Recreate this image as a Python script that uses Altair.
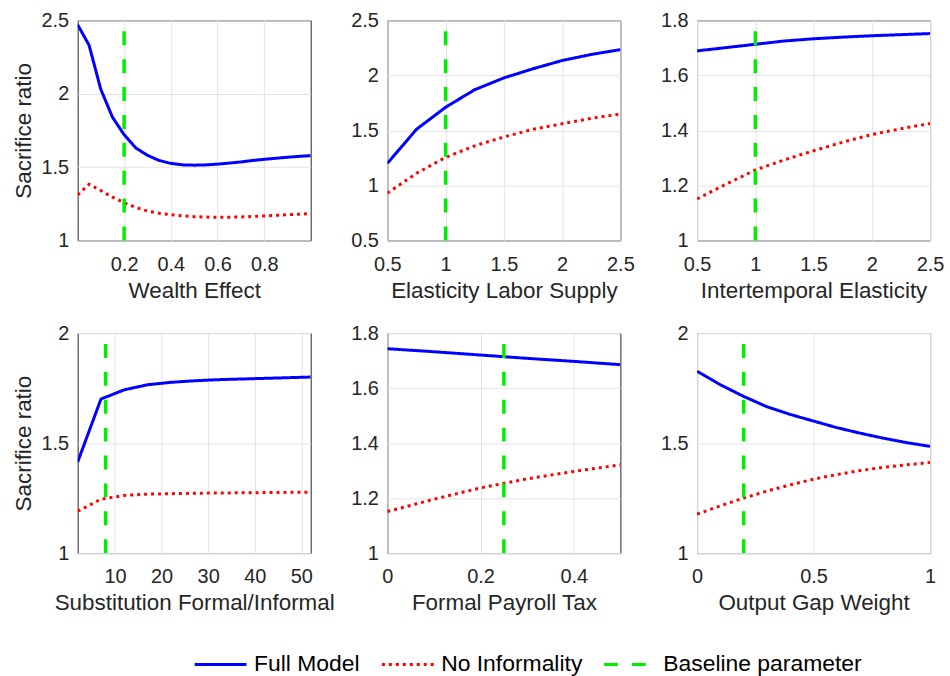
import altair as alt
import pandas as pd

SERIES = ["Full Model", "No Informality", "Baseline parameter"]
COLORS = ["#0000ff", "#ff0000", "#00ee00"]
DASHES = [[1, 0], [3, 4], [14, 14]]

# Panel 1: Wealth Effect
wealth_x = [0.001, 0.05, 0.10, 0.15, 0.20, 0.25, 0.30, 0.35, 0.40, 0.45, 0.50,
            0.55, 0.60, 0.65, 0.70, 0.75, 0.80, 0.85, 0.90, 0.95, 0.999]
wealth_full = [2.47, 2.33, 2.03, 1.84, 1.72, 1.63, 1.58, 1.545, 1.525, 1.515, 1.513,
               1.515, 1.52, 1.527, 1.535, 1.545, 1.553, 1.56, 1.567, 1.573, 1.578]
wealth_noinf = [1.31, 1.383, 1.34, 1.295, 1.257, 1.225, 1.20, 1.185, 1.175, 1.167, 1.162,
                1.159, 1.158, 1.158, 1.16, 1.163, 1.167, 1.171, 1.175, 1.179, 1.183]
wealth_base = 0.2

# Panel 2: Elasticity Labor Supply
labor_x = [0.5, 0.75, 1.0, 1.25, 1.5, 1.75, 2.0, 2.25, 2.5]
labor_full = [1.20, 1.51, 1.71, 1.87, 1.977, 2.06, 2.135, 2.19, 2.234]
labor_noinf = [0.93, 1.11, 1.255, 1.36, 1.44, 1.51, 1.56, 1.61, 1.648]
labor_base = 1.0

# Panel 3: Intertemporal Elasticity
inter_x = [0.5, 0.75, 1.0, 1.25, 1.5, 1.75, 2.0, 2.25, 2.5]
inter_full = [1.689, 1.701, 1.713, 1.725, 1.733, 1.739, 1.744, 1.748, 1.752]
inter_noinf = [1.151, 1.205, 1.256, 1.293, 1.326, 1.357, 1.385, 1.406, 1.425]
inter_base = 1.0

# Panel 4: Substitution Formal/Informal
subst_x = [2, 7, 12, 17, 22, 27, 32, 37, 42, 47, 52]
subst_full = [1.414, 1.70, 1.742, 1.765, 1.776, 1.783, 1.788, 1.791, 1.794, 1.797, 1.80]
subst_noinf = [1.19, 1.245, 1.262, 1.268, 1.270, 1.272, 1.273, 1.274, 1.275, 1.276, 1.277]
subst_base = 8

# Panel 5: Formal Payroll Tax
tax_x = [0.0, 0.1, 0.2, 0.3, 0.4, 0.5]
tax_full = [1.743, 1.732, 1.720, 1.708, 1.697, 1.685]
tax_noinf = [1.151, 1.196, 1.237, 1.27, 1.297, 1.321]
tax_base = 0.25

# Panel 6: Output Gap Weight
gap_x = [0.0, 0.1, 0.2, 0.3, 0.4, 0.5, 0.6, 0.7, 0.8, 0.9, 1.0]
gap_full = [1.826, 1.765, 1.712, 1.665, 1.63, 1.60, 1.57, 1.545, 1.522, 1.502, 1.485]
gap_noinf = [1.177, 1.215, 1.25, 1.282, 1.31, 1.336, 1.357, 1.375, 1.39, 1.401, 1.412]
gap_base = 0.2

TEXT = "#262626"
W, H = 234, 221


def panel(x, full, noinf, base, xdom, ydom, xticks, yticks, xtitle, ytitle):
    df = pd.DataFrame({
        "x": list(x) * 2,
        "y": list(full) + list(noinf),
        "series": [SERIES[0]] * len(x) + [SERIES[1]] * len(x),
    })
    bdf = pd.DataFrame({"x": [base], "series": [SERIES[2]]})
    color = alt.Color("series:N", scale=alt.Scale(domain=SERIES, range=COLORS),
                      legend=alt.Legend(title=None))
    dash = alt.StrokeDash("series:N", scale=alt.Scale(domain=SERIES, range=DASHES),
                          legend=alt.Legend(title=None))
    xenc = alt.X("x:Q", scale=alt.Scale(domain=xdom, nice=False, zero=False),
                 axis=alt.Axis(values=xticks, format="~r", title=xtitle,
                               labelPadding=14, titlePadding=5))
    yaxis = alt.Axis(values=yticks, format="~r", labelPadding=9, titlePadding=6)
    if ytitle:
        yenc = alt.Y("y:Q", scale=alt.Scale(domain=ydom, nice=False, zero=False),
                     axis=yaxis, title=ytitle)
    else:
        yenc = alt.Y("y:Q", scale=alt.Scale(domain=ydom, nice=False, zero=False),
                     axis=yaxis, title=None)
    lines = alt.Chart(df).mark_line(strokeWidth=3, clip=True).encode(
        x=xenc, y=yenc, color=color, strokeDash=dash)
    rule = alt.Chart(bdf).mark_rule(strokeWidth=3.5).encode(
        x=alt.X("x:Q"), y=alt.datum(ydom[0]), y2=alt.datum(ydom[1]),
        color=color, strokeDash=dash)
    return alt.layer(lines, rule).properties(width=W, height=H)


p1 = panel(wealth_x, wealth_full, wealth_noinf, wealth_base, [0.001, 0.999], [1, 2.5],
           [0.2, 0.4, 0.6, 0.8], [1, 1.5, 2, 2.5], "Wealth Effect", "Sacrifice ratio")
p2 = panel(labor_x, labor_full, labor_noinf, labor_base, [0.5, 2.5], [0.5, 2.5],
           [0.5, 1, 1.5, 2, 2.5], [0.5, 1, 1.5, 2, 2.5], "Elasticity Labor Supply", None)
p3 = panel(inter_x, inter_full, inter_noinf, inter_base, [0.5, 2.5], [1, 1.8],
           [0.5, 1, 1.5, 2, 2.5], [1, 1.2, 1.4, 1.6, 1.8], "Intertemporal Elasticity", None)
p4 = panel(subst_x, subst_full, subst_noinf, subst_base, [2, 52], [1, 2],
           [10, 20, 30, 40, 50], [1, 1.5, 2], "Substitution Formal/Informal", "Sacrifice ratio")
p5 = panel(tax_x, tax_full, tax_noinf, tax_base, [0, 0.5], [1, 1.8],
           [0, 0.2, 0.4], [1, 1.2, 1.4, 1.6, 1.8], "Formal Payroll Tax", None)
p6 = panel(gap_x, gap_full, gap_noinf, gap_base, [0, 1], [1, 2],
           [0, 0.5, 1], [1, 1.5, 2], "Output Gap Weight", None)

chart = alt.concat(p1, p2, p3, p4, p5, p6, columns=3,
                   spacing={"row": 93, "column": 77}, bounds="flush").properties(
    padding={"left": 11, "top": 8, "right": 5, "bottom": 5},
    background="white",
).configure(font="Liberation Sans").configure_view(
    stroke=TEXT, strokeWidth=1
).configure_axis(
    labelFontSize=20, titleFontSize=22.5, titleFontWeight="normal",
    labelColor=TEXT, titleColor=TEXT, labelFont="Liberation Sans", titleFont="Liberation Sans",
    grid=True, gridColor="#e3e3e3", gridWidth=1, ticks=False, domain=False,
    labelFlush=False, labelOverlap=False, labelBound=False,
).configure_legend(
    orient="none", legendX=116, legendY=619, direction="horizontal",
    symbolType="stroke", symbolSize=2704, symbolStrokeWidth=3,
    labelFontSize=23, labelFont="Liberation Sans", labelColor="#000000",
    labelLimit=500, columnPadding=15, labelOffset=6, padding=0,
)

chart.save("out.html", embed_options={"renderer": "svg", "actions": False})
